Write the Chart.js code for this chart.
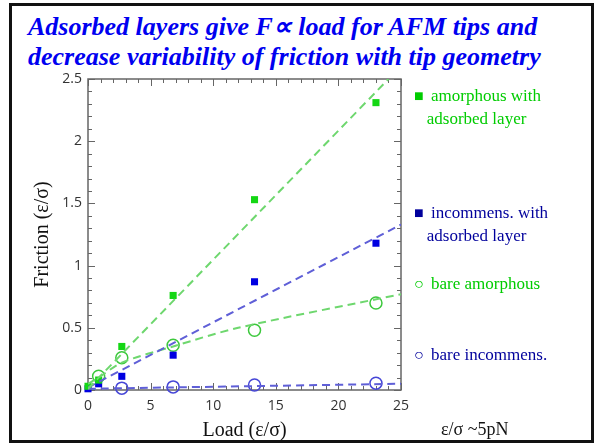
<!DOCTYPE html>
<html lang="en">
<head>
    <meta charset="UTF-8">
    <title>Friction vs load</title>
    <script src="https://cdn.jsdelivr.net/npm/chart.js"></script>
    <style>
        html, body { margin: 0; padding: 0; background: #fff; }
        #slide { position: relative; width: 600px; height: 446px; overflow: hidden; }
        #frame {
            position: absolute; left: 9px; top: 3px; width: 579px; height: 434px;
            border: 3px solid #111;
        }
        canvas { position: absolute; left: 0; top: 0; }
        .title {
            position: absolute; left: 28px; font-family: "Liberation Serif", serif;
            font-weight: bold; font-style: italic; font-size: 26px; color: #0000f0;
            white-space: nowrap; line-height: 30px;
        }
        .leg {
            position: absolute; font-family: "Liberation Serif", serif; font-size: 17px;
            white-space: nowrap; line-height: 23px;
        }
        .green { color: #00cc00; }
        .navy { color: #00009c; }
        .mk { font-size: 16px; display: inline-block; width: 17px; }
        #unit { position: absolute; left: 441px; top: 419px; font-family: "Liberation Serif", serif; font-size: 18px; color: #111; }
    </style>
</head>
<body>
<div id="slide">
    <div id="frame"></div>
    <div class="title" style="top: 12px;">Adsorbed layers give F&#x221D; load for AFM tips and</div>
    <div class="title" style="top: 42px;">decrease variability of friction with tip geometry</div>
    <canvas id="chart" width="600" height="446"></canvas>
    <div class="leg green" style="left: 414px; top: 84px;"><span class="mk">&#x25A0;</span>amorphous with<br>&nbsp;&nbsp;&nbsp;adsorbed layer</div>
    <div class="leg navy" style="left: 414px; top: 201px;"><span class="mk">&#x25A0;</span>incommens. with<br>&nbsp;&nbsp;&nbsp;adsorbed layer</div>
    <div class="leg green" style="left: 414px; top: 272px;"><span class="mk">&#x25CB;</span>bare amorphous</div>
    <div class="leg navy" style="left: 414px; top: 343px;"><span class="mk">&#x25CB;</span>bare incommens.</div>
    <div id="unit">&#x3B5;/&#x3C3; ~5pN</div>
</div>
<script>
    // measured points (load in eps/sigma, friction in eps/sigma)
    const loadAds = [0, 0.85, 2.7, 6.8, 13.3, 23];
    const amorphAds = [0.03, 0.08, 0.35, 0.76, 1.53, 2.31];
    const incomAds = [0.01, 0.05, 0.11, 0.28, 0.87, 1.18];

    const loadBareAmorph = [0.85, 2.7, 6.8, 13.3, 23];
    const bareAmorph = [0.11, 0.26, 0.36, 0.48, 0.70];

    const loadBareIncom = [2.7, 6.8, 13.3, 23];
    const bareIncom = [0.015, 0.025, 0.04, 0.055];

    // dashed fit lines
    const fitAmorphAdsX = [0, 24];
    const fitAmorphAdsY = [0.01, 2.5];
    const fitIncomAdsX = [0, 25];
    const fitIncomAdsY = [0.02, 1.33];
    const fitBareAmorphX = [0, 0.85, 2.7, 6.8, 12, 25];
    const fitBareAmorphY = [0.05, 0.1, 0.22, 0.35, 0.5, 0.77];
    const fitBareIncomX = [0, 25];
    const fitBareIncomY = [0.01, 0.05];

    const xTicks = [0, 5, 10, 15, 20, 25];
    const yTicks = [0, 0.5, 1, 1.5, 2, 2.5];

    function pts(xs, ys) {
        return xs.map((x, i) => ({ x: x, y: ys[i] }));
    }

    const green = 'rgb(20, 215, 20)';
    const blue = 'rgb(0, 0, 225)';
    const greenLine = 'rgba(110, 215, 110, 1)';
    const blueLine = 'rgba(95, 95, 215, 1)';

    function fitSet(xs, ys, color) {
        return {
            data: pts(xs, ys), showLine: true, borderColor: color, borderWidth: 2,
            borderDash: [8, 5], pointRadius: 0, fill: false, tension: 0.3
        };
    }

    // ticks pointing inward on all four sides of the box
    const boxTicks = {
        id: 'boxTicks',
        beforeDatasetsDraw(chart) {
            const { ctx, chartArea: a, scales: { x, y } } = chart;
            ctx.save();
            ctx.strokeStyle = '#666';
            ctx.lineWidth = 1.5;
            ctx.strokeRect(a.left, a.top, a.right - a.left, a.bottom - a.top);
            ctx.lineWidth = 1;
            for (let v = 0; v <= 25; v++) {
                const px = Math.round(x.getPixelForValue(v)) + 0.5;
                const len = v % 5 === 0 ? 7 : 4;
                ctx.beginPath();
                ctx.moveTo(px, a.bottom); ctx.lineTo(px, a.bottom - len);
                ctx.moveTo(px, a.top); ctx.lineTo(px, a.top + len);
                ctx.stroke();
            }
            for (let i = 0; i <= 25; i++) {
                const py = Math.round(y.getPixelForValue(i / 10)) + 0.5;
                const len = i % 5 === 0 ? 7 : 4;
                ctx.beginPath();
                ctx.moveTo(a.left, py); ctx.lineTo(a.left + len, py);
                ctx.moveTo(a.right, py); ctx.lineTo(a.right - len, py);
                ctx.stroke();
            }
            ctx.restore();
        }
    };

    const tickFont = { family: '"Open Sans", sans-serif', size: 14 };
    const titleFont = { family: '"Liberation Serif", serif', size: 20 };

    new Chart(document.getElementById('chart').getContext('2d'), {
        type: 'scatter',
        data: {
            datasets: [
                fitSet(fitAmorphAdsX, fitAmorphAdsY, greenLine),
                fitSet(fitIncomAdsX, fitIncomAdsY, blueLine),
                fitSet(fitBareAmorphX, fitBareAmorphY, greenLine),
                fitSet(fitBareIncomX, fitBareIncomY, blueLine),
                {
                    data: pts(loadAds, amorphAds), pointStyle: 'rect', pointRadius: 5,
                    backgroundColor: green, borderColor: green, borderWidth: 0, clip: false
                },
                {
                    data: pts(loadAds, incomAds), pointStyle: 'rect', pointRadius: 5,
                    backgroundColor: blue, borderColor: blue, borderWidth: 0, clip: false
                },
                {
                    data: pts(loadBareAmorph, bareAmorph), pointStyle: 'circle', pointRadius: 6,
                    backgroundColor: 'rgba(0,0,0,0)', borderColor: 'rgb(60, 200, 60)', borderWidth: 1.5, clip: false
                },
                {
                    data: pts(loadBareIncom, bareIncom), pointStyle: 'circle', pointRadius: 6,
                    backgroundColor: 'rgba(0,0,0,0)', borderColor: 'rgb(70, 70, 215)', borderWidth: 1.5, clip: false
                }
            ]
        },
        options: {
            responsive: false,
            animation: false,
            layout: { padding: { left: 20, right: 199, top: 79, bottom: 0 } },
            plugins: { legend: { display: false }, tooltip: { enabled: false } },
            scales: {
                x: {
                    type: 'linear', min: 0, max: 25,
                    afterBuildTicks: (s) => { s.ticks = xTicks.map(v => ({ value: v })); },
                    afterFit: (s) => { s.height = 56; },
                    grid: { display: false, drawTicks: false },
                    border: { display: false },
                    ticks: { font: tickFont, color: '#333', padding: 8, maxRotation: 0 },
                    title: { display: true, text: 'Load (\u03B5/\u03C3)', font: titleFont, color: '#111', padding: { top: 0, bottom: 3 } }
                },
                y: {
                    type: 'linear', min: 0, max: 2.5,
                    afterBuildTicks: (s) => { s.ticks = yTicks.map(v => ({ value: v })); },
                    afterFit: (s) => { s.width = 68; },
                    grid: { display: false, drawTicks: false },
                    border: { display: false },
                    ticks: { font: tickFont, color: '#333', padding: 6, callback: (v) => String(v) },
                    title: { display: true, text: 'Friction (\u03B5/\u03C3)', font: titleFont, color: '#111', padding: { top: 11, bottom: 0 } }
                }
            }
        },
        plugins: [boxTicks]
    });
</script>
</body>
</html>
